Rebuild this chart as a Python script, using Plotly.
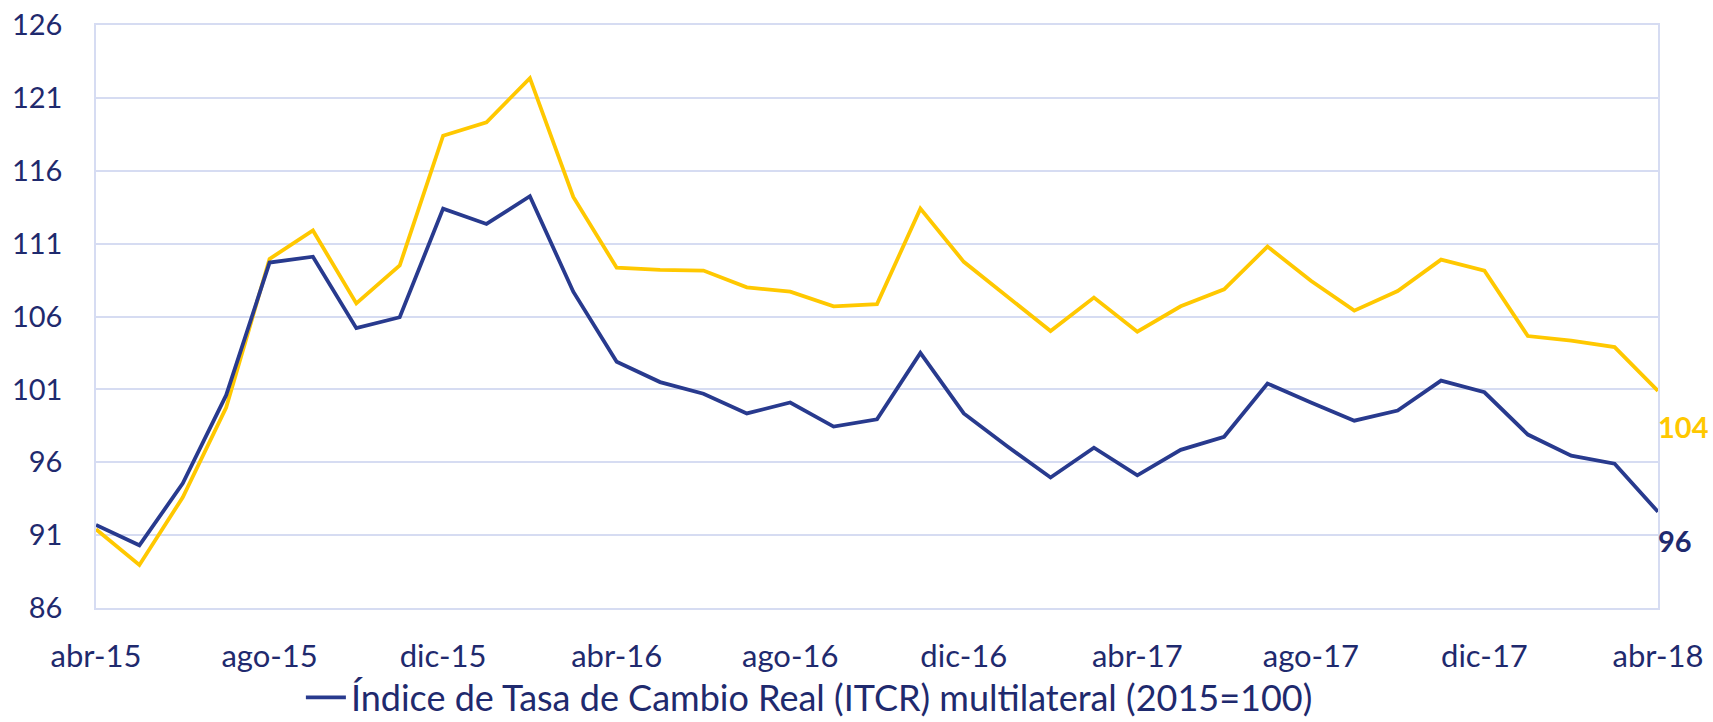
import plotly.graph_objects as go

meses = ["ene", "feb", "mar", "abr", "may", "jun", "jul", "ago", "sep", "oct", "nov", "dic"]
categorias = []
for i in range(37):
    m = (3 + i) % 12
    a = 15 + (3 + i) // 12
    categorias.append(f"{meses[m]}-{a}")

itcr_multilateral = [91.7, 90.3, 94.55, 100.6, 109.7, 110.1, 105.2, 105.95, 113.4, 112.35, 114.25, 107.7,
                     102.9, 101.5, 100.7, 99.35, 100.1, 98.45, 98.95, 103.5, 99.35, 97.1, 94.95, 97.0,
                     95.1, 96.85, 97.75, 101.4, 100.1, 98.85, 99.55, 101.6, 100.8, 97.9, 96.45, 95.9, 92.6]
itcr_otro = [91.4, 88.95, 93.6, 99.75, 109.95, 111.9, 106.9, 109.5, 118.4, 119.33, 122.35, 114.2,
             109.35, 109.2, 109.15, 108.0, 107.7, 106.7, 106.85, 113.4, 109.75, 107.4, 105.0, 107.3,
             104.96, 106.7, 107.86, 110.8, 108.45, 106.4, 107.75, 109.9, 109.15, 104.66, 104.35, 103.9, 100.9]
etiquetas_finales = ["96", "104"]
ticks_x = categorias[::4]
ticks_y = [86, 91, 96, 101, 106, 111, 116, 121, 126]

AZUL = "#283A8E"
ORO = "#FFC800"
TEXTO = "#1F2A6E"
GRID = "#D6DCF2"
FONT = "Lato"

fig = go.Figure()
fig.add_trace(go.Scatter(x=categorias, y=itcr_otro, mode="lines",
                         line=dict(color=ORO, width=3.8), showlegend=False))
fig.add_trace(go.Scatter(x=categorias, y=itcr_multilateral, mode="lines",
                         line=dict(color=AZUL, width=3.8),
                         name="Índice de Tasa de Cambio Real (ITCR) multilateral (2015=100)"))

fig.add_annotation(x=categorias[-1], y=itcr_multilateral[-1], text="<b>" + etiquetas_finales[0] + "</b>",
                   showarrow=False, xanchor="left", yanchor="middle", xshift=-2, yshift=-29,
                   font=dict(family=FONT, size=29, color=TEXTO))
fig.add_annotation(x=categorias[-1], y=itcr_otro[-1], text="<b>" + etiquetas_finales[1] + "</b>",
                   showarrow=False, xanchor="left", yanchor="middle", xshift=-2, yshift=-36,
                   font=dict(family=FONT, size=29, color=ORO))

fig.update_layout(
    width=1713, height=722,
    margin=dict(l=96, r=55, t=25, b=114, autoexpand=False),
    plot_bgcolor="white", paper_bgcolor="white",
    font=dict(family=FONT, size=28, color=TEXTO),
    legend=dict(orientation="h", x=0.4725, xanchor="center", xref="container",
                y=0.034, yanchor="middle", yref="container", bgcolor="rgba(0,0,0,0)",
                font=dict(family=FONT, size=36, color=TEXTO), itemwidth=40),
    xaxis=dict(type="category", range=[0, 36], tickmode="array", tickvals=ticks_x, ticktext=ticks_x,
               showgrid=False, showline=True, linecolor=GRID, linewidth=1.5, mirror=True,
               ticks="", ticklabelstandoff=20, tickfont=dict(family=FONT, size=31, color=TEXTO)),
    yaxis=dict(range=[86, 126], tickmode="array", tickvals=ticks_y,
               showgrid=True, gridcolor=GRID, gridwidth=1.5,
               showline=True, linecolor=GRID, linewidth=1.5, mirror=True,
               ticks="", ticklabelstandoff=26, tickfont=dict(family=FONT, size=29, color=TEXTO),
               zeroline=False),
)

fig.write_html("out.html", config={"displayModeBar": False},
               post_script="document.body.style.margin='0';")
